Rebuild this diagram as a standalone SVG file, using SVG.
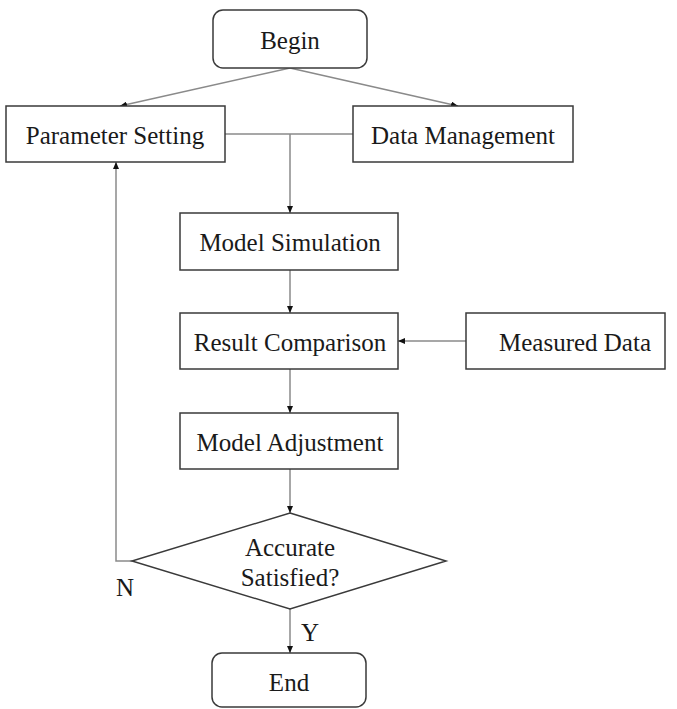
<svg xmlns="http://www.w3.org/2000/svg" width="677" height="709" viewBox="0 0 677 709">
<style>
.box{fill:#fff;stroke:#3a3a3a;stroke-width:1.5}
.lbl{font-family:"Liberation Serif","Times New Roman",serif;font-size:25px;fill:#1a1a1a;text-anchor:middle;dominant-baseline:central}
.ln{fill:none;stroke:#8a8a8a;stroke-width:1.5}
.ar{marker-end:url(#ah)}
</style>
<defs>
<marker id="ah" viewBox="0 0 10 10" refX="10" refY="5" markerWidth="7" markerHeight="6" markerUnits="userSpaceOnUse" orient="auto" preserveAspectRatio="none">
<path d="M0,0 L10,5 L0,10 z" fill="#111"/>
</marker>
</defs>
<rect width="677" height="709" fill="#fff"/>
<g id="connectors">
<line class="ln ar" x1="290" y1="68" x2="120" y2="106"/>
<line class="ln ar" x1="290" y1="68" x2="458" y2="106"/>
<line class="ln" x1="225" y1="134" x2="353" y2="134"/>
<line class="ln ar" x1="290" y1="134" x2="290" y2="213"/>
<line class="ln ar" x1="290" y1="270" x2="290" y2="313"/>
<line class="ln ar" x1="466" y1="341" x2="398" y2="341"/>
<line class="ln ar" x1="290" y1="369" x2="290" y2="413"/>
<line class="ln ar" x1="290" y1="469" x2="290" y2="513"/>
<polyline class="ln ar" points="132,561 116,561 116,162"/>
<line class="ln ar" x1="290" y1="609" x2="290" y2="653"/>
<text class="lbl" x="125" y="587">N</text>
<text class="lbl" x="310" y="632">Y</text>
</g>
<g id="begin"><rect class="box" x="213" y="10" width="154" height="58" rx="10"/><text class="lbl" x="290" y="40">Begin</text></g>
<g id="param"><rect class="box" x="6" y="106" width="219" height="56"/><text class="lbl" x="115" y="135">Parameter Setting</text></g>
<g id="data"><rect class="box" x="353" y="106" width="220" height="56"/><text class="lbl" x="463" y="135">Data Management</text></g>
<g id="sim"><rect class="box" x="180" y="213" width="218" height="57"/><text class="lbl" x="290" y="242">Model Simulation</text></g>
<g id="cmp"><rect class="box" x="180" y="313" width="218" height="56"/><text class="lbl" x="290" y="342">Result Comparison</text></g>
<g id="meas"><rect class="box" x="466" y="313" width="199" height="56"/><text class="lbl" x="575" y="342">Measured Data</text></g>
<g id="adj"><rect class="box" x="180" y="413" width="218" height="56"/><text class="lbl" x="290" y="442">Model Adjustment</text></g>
<g id="dec"><polygon class="box" points="290,513 446,561 290,609 132,561"/><text class="lbl" x="290" y="547">Accurate</text><text class="lbl" x="290" y="577">Satisfied?</text></g>
<g id="end"><rect class="box" x="212" y="653" width="154" height="54" rx="10"/><text class="lbl" x="289" y="682">End</text></g>
</svg>
